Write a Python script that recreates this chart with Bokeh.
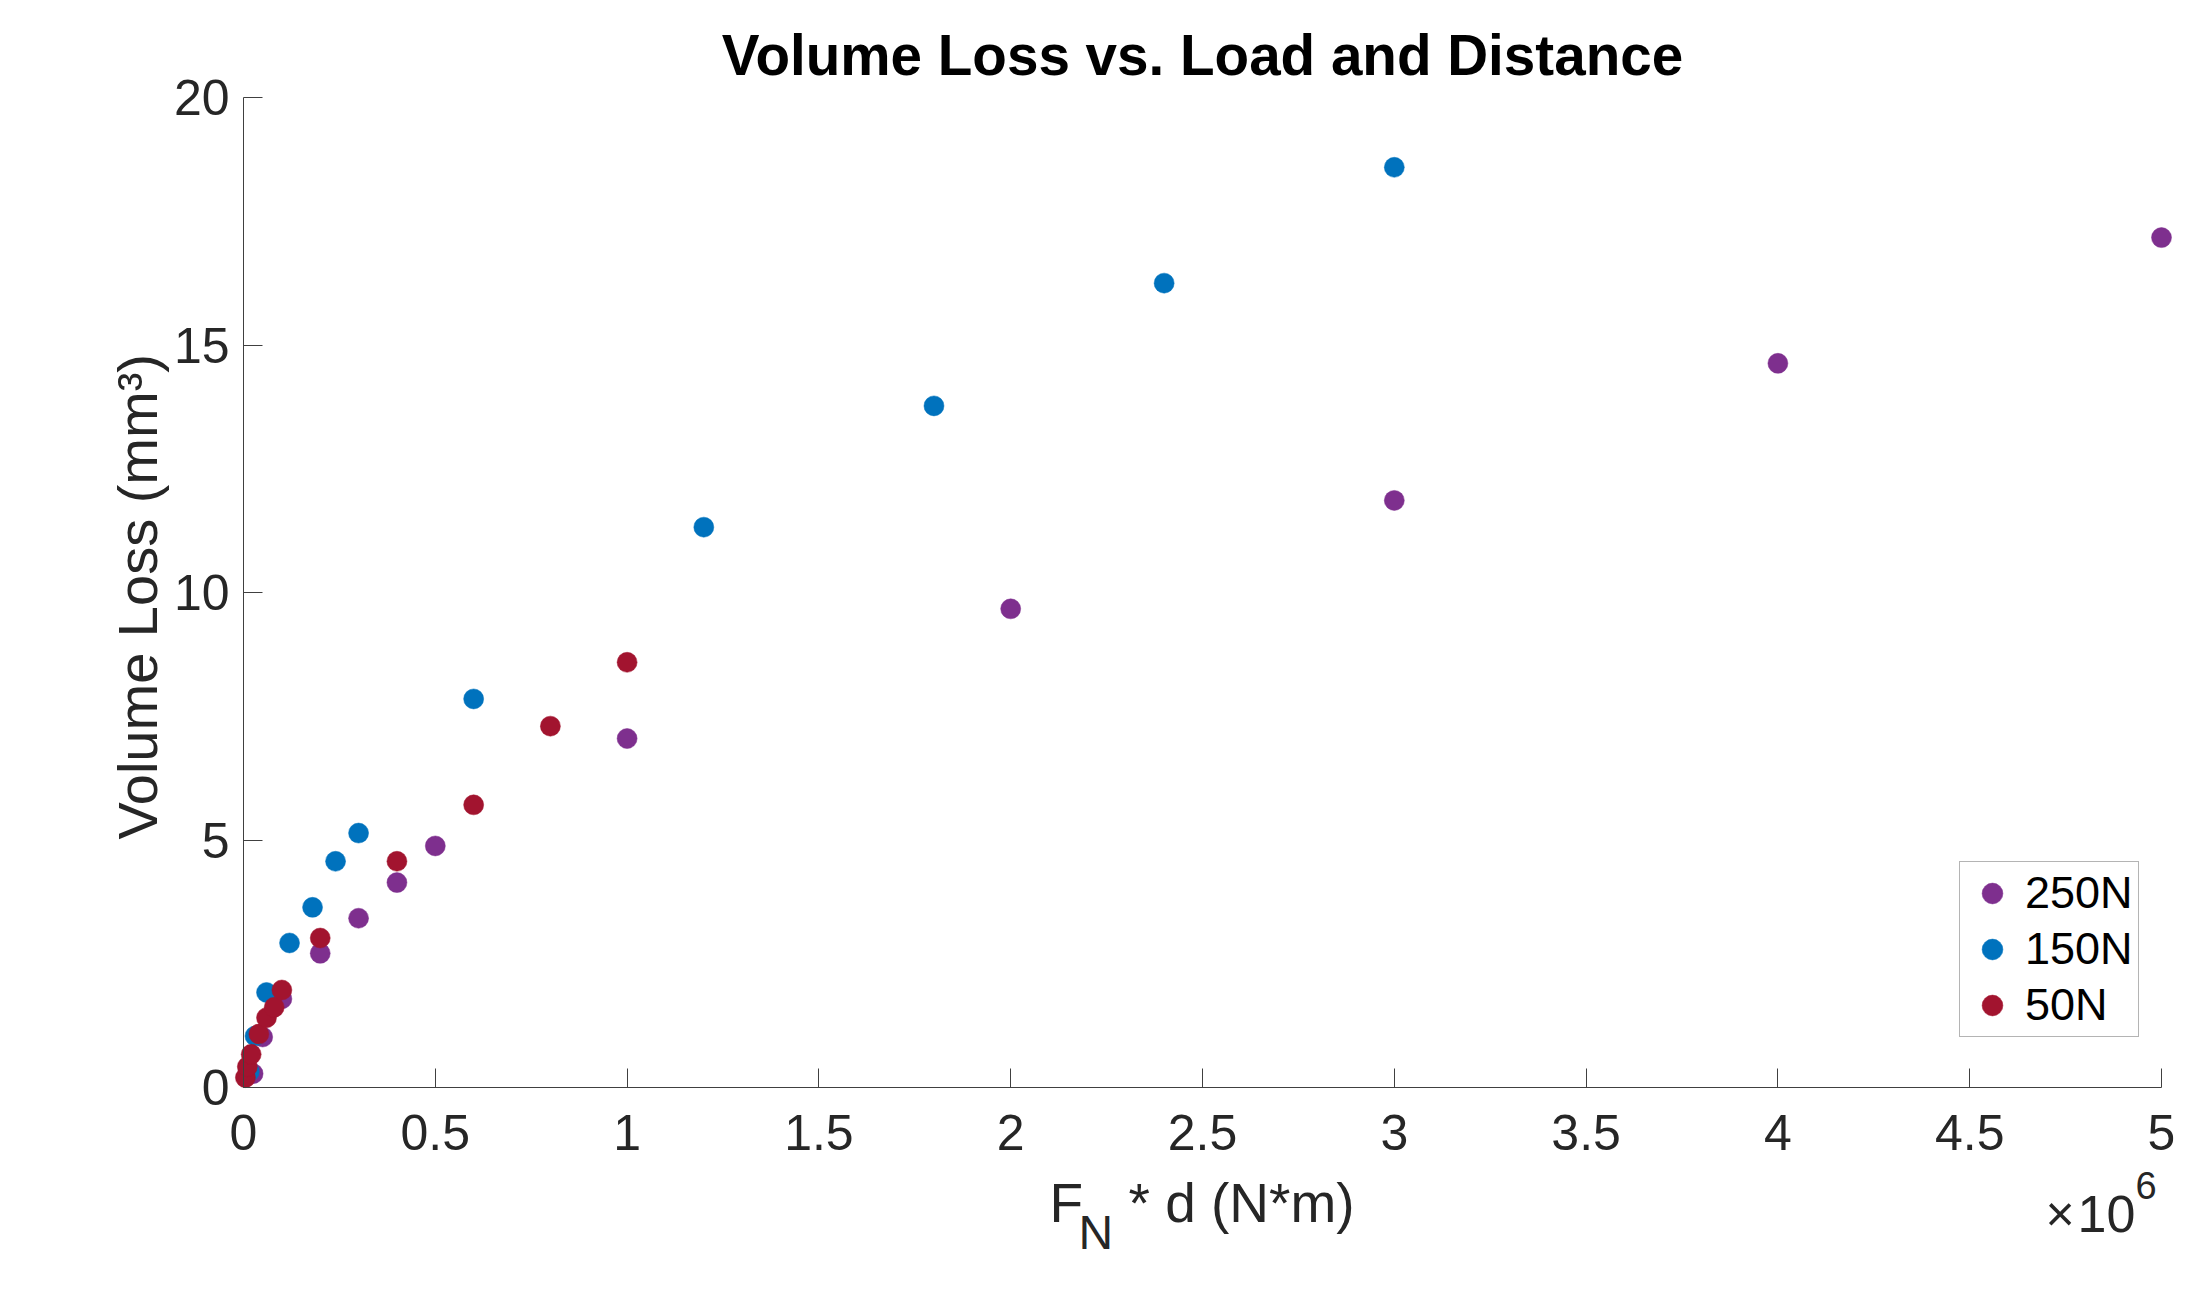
import math
from bokeh.plotting import figure
from bokeh.models import Range1d, FixedTicker, Legend, LegendItem
from bokeh.core.properties import value
from bokeh.embed import file_html
from bokeh.resources import INLINE

# ---- data (x in N*m, y in mm^3) ----
x_250 = [0.025e6, 0.05e6, 0.1e6, 0.2e6, 0.3e6, 0.4e6, 0.5e6, 1.0e6, 2.0e6, 3.0e6, 4.0e6, 5.0e6]
y_250 = [0.28, 1.02, 1.79, 2.71, 3.42, 4.14, 4.88, 7.05, 9.67, 11.86, 14.63, 17.17]

x_150 = [0.015e6, 0.03e6, 0.06e6, 0.12e6, 0.18e6, 0.24e6, 0.3e6, 0.6e6, 1.2e6, 1.8e6, 2.4e6, 3.0e6]
y_150 = [0.32, 1.04, 1.92, 2.92, 3.64, 4.57, 5.14, 7.85, 11.32, 13.77, 16.25, 18.59]

x_50 = [0.005e6, 0.01e6, 0.02e6, 0.04e6, 0.06e6, 0.08e6, 0.1e6, 0.2e6, 0.4e6, 0.6e6, 0.8e6, 1.0e6]
y_50 = [0.2, 0.42, 0.67, 1.08, 1.41, 1.62, 1.97, 3.02, 4.57, 5.71, 7.30, 8.59]

series_names = ["250N", "150N", "50N"]
x_ticks = [0, 0.5e6, 1e6, 1.5e6, 2e6, 2.5e6, 3e6, 3.5e6, 4e6, 4.5e6, 5e6]
x_tick_labels = ["0", "0.5", "1", "1.5", "2", "2.5", "3", "3.5", "4", "4.5", "5"]
y_ticks = [0, 5, 10, 15, 20]

colors = ["#7E2F8E", "#0072BD", "#A2142F"]
FONT = "Liberation Sans"
TXT = "#262626"

# ---- geometry (page pixels) ----
W, H = 2196, 1297
AX_LEFT, AX_TOP = 243, 97        # where x=0 / y=20 fall on the page
AXW, AXH = 1918, 990             # axis lengths for 0..5e6 and 0..20
FR_LEFT, FR_TOP = 95, 10         # frame spans nearly the whole figure
PAD_R = 12                       # room so the marker at x=5e6 is not cut
XMAX, YMAX = 5e6, 20.0
PX_X = XMAX / AXW                # data per pixel
PX_Y = YMAX / AXH
FR_RIGHT = W - (AX_LEFT + AXW + PAD_R)

p = figure(width=W, height=H, output_backend="svg", toolbar_location=None, title=None,
           x_range=Range1d(-(AX_LEFT - FR_LEFT) * PX_X, XMAX + PAD_R * PX_X),
           y_range=Range1d(YMAX - (H - AX_TOP) * PX_Y, YMAX + (AX_TOP - FR_TOP) * PX_Y),
           min_border_left=FR_LEFT, min_border_right=FR_RIGHT,
           min_border_top=FR_TOP, min_border_bottom=0)
p.outline_line_color = None
p.xgrid.visible = False
p.ygrid.visible = False

for ax in (p.xaxis, p.yaxis):
    ax.axis_line_color = "#404040"
    ax.major_tick_line_color = "#404040"
    ax.axis_line_width = 1
    ax.major_tick_in = 19
    ax.major_tick_out = 0
    ax.minor_tick_line_color = None
    ax.major_label_text_font = FONT
    ax.major_label_text_font_size = "50px"
    ax.major_label_text_color = TXT
    ax.fixed_location = 0        # axes cross at (0, 0) inside the frame

p.xaxis.bounds = (0, XMAX)
p.xaxis.ticker = FixedTicker(ticks=x_ticks)
p.xaxis.major_label_overrides = {t: l for t, l in zip(x_ticks, x_tick_labels)}
p.xaxis.major_label_standoff = 27
p.yaxis.bounds = (0, YMAX)
p.yaxis.ticker = FixedTicker(ticks=y_ticks)
p.yaxis.major_label_standoff = 14

renderers = []
for xs, ys, c in zip([x_250, x_150, x_50], [y_250, y_150, y_50], colors):
    r = p.scatter(xs, ys, size=20, fill_color=c, line_color=c, line_width=0.5, marker="circle")
    renderers.append(r)

legend = Legend(items=[LegendItem(label=n, renderers=[r]) for n, r in zip(series_names, renderers)],
                location=(1959 - FR_LEFT, H - 1037))
legend.label_text_font = FONT
legend.label_text_font_size = "45px"
legend.label_text_color = "black"
legend.glyph_width = 54
legend.glyph_height = 52
legend.label_height = 52
legend.spacing = 4
legend.padding = 5
legend.margin = 0
legend.label_standoff = 6
legend.border_line_color = "#6a6a6a"
legend.border_line_width = 1
legend.background_fill_color = "white"
legend.background_fill_alpha = 1
p.add_layout(legend, "center")

DY = 15  # measured correction of the text baseline (along the text's own "down")


def put(text, px, py, size, align="left", bold=False, vertical=False, color=TXT):
    # px, py: page pixel position of the text baseline anchor
    if vertical:
        px, ang = px - DY, math.pi / 2
    else:
        py, ang = py - DY, 0.0
    p.text(x=[(px - AX_LEFT) * PX_X], y=[(AX_TOP + AXH - py) * PX_Y], text=[text],
           text_font=value(FONT), text_font_size=value(size), text_color=color,
           text_font_style="bold" if bold else "normal", angle=ang,
           text_align=align, text_baseline="alphabetic")


# title
put("Volume Loss vs. Load and Distance", 1202, 70, "56.6px", align="center", bold=True, color="black")
# y-axis label (reads bottom to top)
put("Volume Loss (mm\u00b3)", 152, 839, "56px", vertical=True)
# x-axis label with subscript, and the x10^6 multiplier
put("F", 1049, 1217, "55px")
put("N", 1078, 1247, "48px")
put("* d (N*m)", 1128, 1217, "55px")
put("\u00d7", 2045, 1228, "50px")
put("10", 2077, 1228, "52px")
put("6", 2135, 1200, "38px")

open("out.html", "w").write(file_html(p, INLINE))
